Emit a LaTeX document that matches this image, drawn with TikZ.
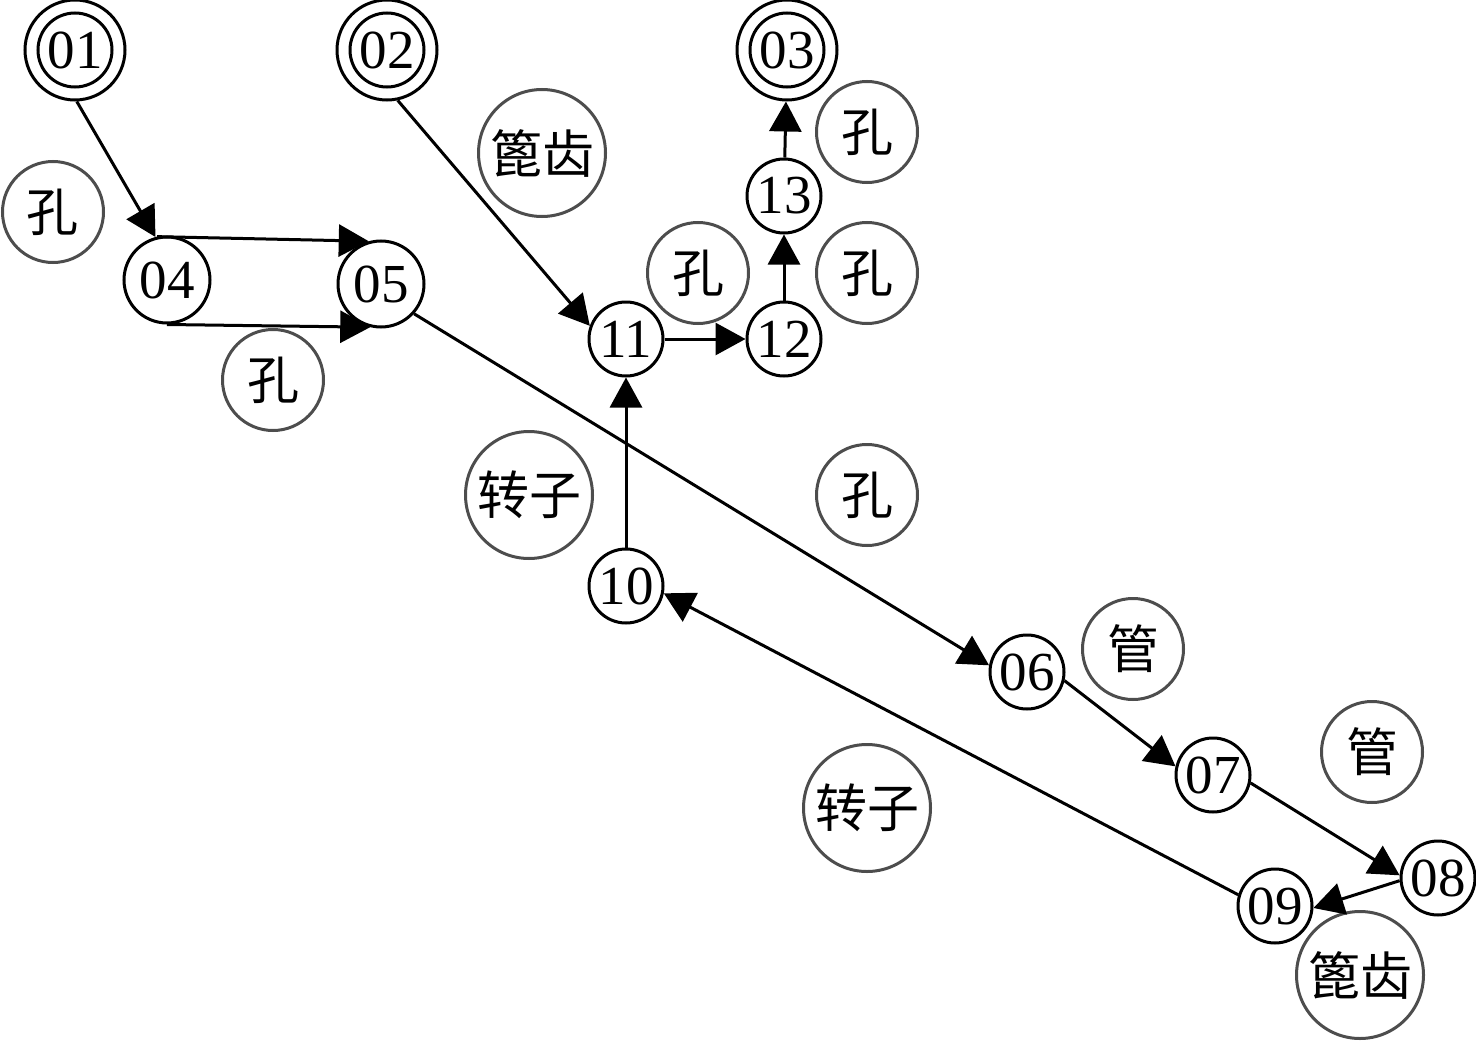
\documentclass[tikz,border=0pt]{standalone}
\usepackage{fontspec}
\setmainfont{Liberation Serif}
\newfontfamily\cjk{Noto Sans CJK SC}
\usetikzlibrary{arrows.meta}
\definecolor{ringgray}{HTML}{4D4D4D}
\begin{document}
\begin{tikzpicture}[x=1pt,y=-1pt,
  st/.style={circle,draw,line width=3pt,inner sep=0pt,minimum size=74pt,font=\fontsize{55}{55}\selectfont},
  bigst/.style={st,minimum size=86pt},
  endst/.style={st,minimum size=100pt},
  lab/.style={circle,draw=ringgray,line width=3pt,inner sep=0pt,minimum size=101pt,font=\cjk\fontsize{52}{52}\selectfont},
  lablg/.style={lab,minimum size=127pt},
  arr/.style={line width=3pt,-{Triangle[length=30pt,width=32pt]}}]
\useasboundingbox (0,0) rectangle (1476,1041);
% state nodes
\node[endst] (n01) at (75,50) {01};
\node[endst] (n02) at (387,50) {02};
\node[endst] (n03) at (787,50) {03};
\draw[line width=3pt] (n01.center) circle[radius=37];
\draw[line width=3pt] (n02.center) circle[radius=37];
\draw[line width=3pt] (n03.center) circle[radius=37];
\node[bigst] (n04) at (167,280) {04};
\node[bigst] (n05) at (381,284) {05};
\node[st] (n06) at (1027,672) {06};
\node[st] (n07) at (1213,775) {07};
\node[st] (n08) at (1438,878) {08};
\node[st] (n09) at (1275,906) {09};
\node[st] (n10) at (626,586) {10};
\node[st] (n11) at (626,339) {11};
\node[st] (n12) at (784,339) {12};
\node[st] (n13) at (784,196) {13};
% annotation circles
\node[lab] (k1) at (53,212) {孔};
\node[lab] (k2) at (273,380) {孔};
\node[lablg] (b1) at (542,153) {篦齿};
\node[lab] (k3) at (867,132) {孔};
\node[lab] (k4) at (698,273) {孔};
\node[lab] (k5) at (867,273) {孔};
\node[lab] (k6) at (867,495) {孔};
\node[lablg] (z1) at (529,495) {转子};
\node[lab] (g1) at (1133,649) {管};
\node[lab] (g2) at (1372,752) {管};
\node[lablg] (b2) at (1360,975) {篦齿};
\node[lablg] (z2) at (867,808) {转子};
% connectors
\draw[arr] (n01.-88) -- (n04.105);
\draw[arr] (n04.103) -- (n05.106);
\draw[arr] (n04.-90) -- (n05.-104);
\draw[arr] (n02.-78) -- (n11.160);
\draw[arr] (n05.-42) -- (n06.170);
\draw[arr] (n06.-13) -- (n07.167);
\draw[arr] (n07.-12) -- (n08.176);
\draw[arr] (n08.-176) -- (n09.-3);
\draw[arr] (n09.163) -- (n10.-11);
\draw[arr] (n10) -- (n11);
\draw[arr] (n11) -- (n12);
\draw[arr] (n12) -- (n13);
\draw[arr] (n13) -- (n03);
\end{tikzpicture}
\end{document}
